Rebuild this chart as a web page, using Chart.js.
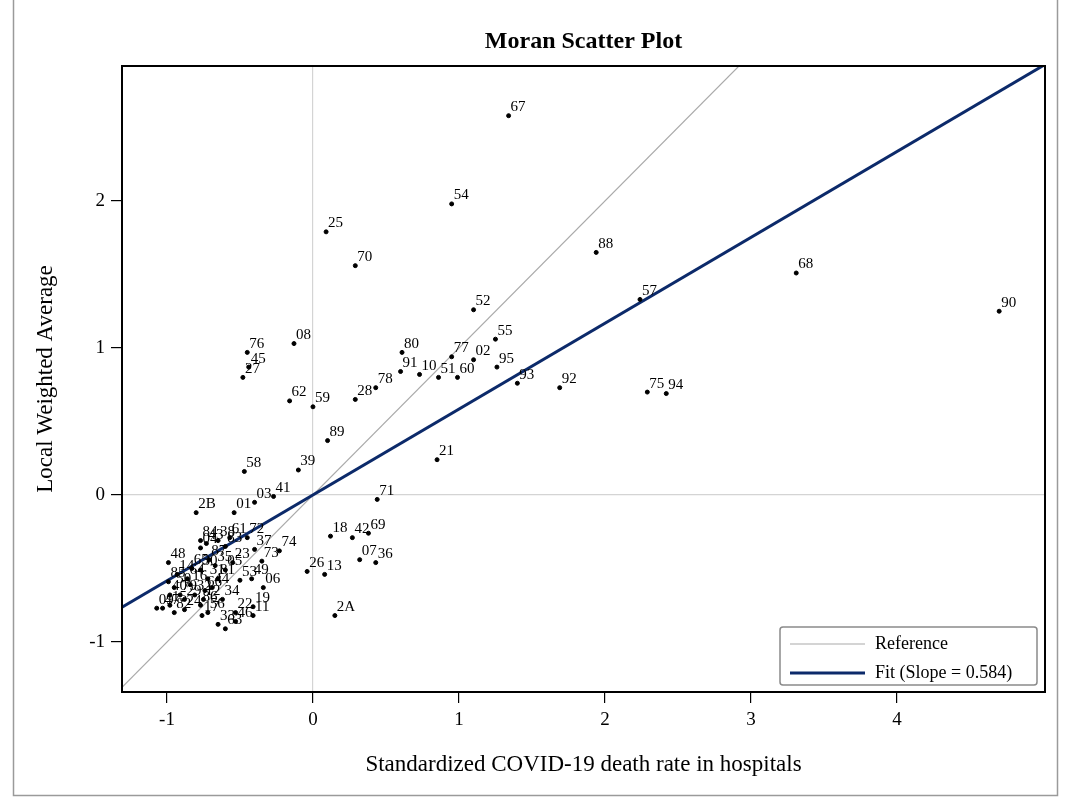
<!DOCTYPE html>
<html>
<head>
<meta charset="utf-8">
<script src="https://cdn.jsdelivr.net/npm/chart.js@4.4.1/dist/chart.umd.min.js"></script>
<style>
  html, body { margin: 0; padding: 0; background: #fff; }
  #wrap { position: relative; width: 1069px; height: 797px; }
</style>
</head>
<body>
<div id="wrap"><canvas id="moran" width="1069" height="797"></canvas></div>
<script>
// department codes, standardized death rate (x) and local weighted average (y)
const codes = ['67','54','25','70','88','68','90','57','52','55','95','93','92','75','94',
  '80','91','10','77','02','51','60','78','28','76','08','45','27','62','59','89','58','39',
  '21','41','71','18','42','69','07','36','26','13','2A','2B','03','01','84','38','61','43',
  '72','74','04','48','37','83','23','73','49','53','06','19','11','46','22','34','44','05',
  '12','56','17','24','33','63','82','09','40','14','15','16','29','30','31','32','35','47',
  '50','64','65','66','79','81','85','86','87'];
const rateVals = [1.34,0.95,0.09,0.29,1.94,3.31,4.70,2.24,1.10,1.25,1.26,1.40,1.69,2.29,2.42,
  0.61,0.60,0.73,0.95,1.10,0.86,0.99,0.43,0.29,-0.45,-0.13,-0.44,-0.48,-0.16,0.00,0.10,-0.47,-0.10,
  0.85,-0.27,0.44,0.12,0.27,0.38,0.32,0.43,-0.04,0.08,0.15,-0.80,-0.40,-0.54,-0.77,-0.65,-0.57,-0.73,
  -0.45,-0.23,-0.77,-0.99,-0.40,-0.60,-0.55,-0.35,-0.42,-0.50,-0.34,-0.41,-0.41,-0.53,-0.53,-0.62,-0.69,-0.60,
  -0.75,-0.72,-0.76,-0.88,-0.65,-0.60,-0.95,-1.07,-0.98,-0.93,-0.98,-0.84,-0.88,-0.77,-0.72,-0.81,-0.67,-1.03,
  -0.95,-0.86,-0.83,-0.74,-0.91,-0.65,-0.99,-0.77,-0.71];
const lagVals = [2.58,1.98,1.79,1.56,1.65,1.51,1.25,1.33,1.26,1.06,0.87,0.76,0.73,0.70,0.69,
  0.97,0.84,0.82,0.94,0.92,0.80,0.80,0.73,0.65,0.97,1.03,0.87,0.80,0.64,0.60,0.37,0.16,0.17,
  0.24,-0.01,-0.03,-0.28,-0.29,-0.26,-0.44,-0.46,-0.52,-0.54,-0.82,-0.12,-0.05,-0.12,-0.31,-0.31,-0.29,-0.33,
  -0.29,-0.38,-0.36,-0.46,-0.37,-0.35,-0.46,-0.45,-0.57,-0.58,-0.63,-0.76,-0.82,-0.86,-0.80,-0.71,-0.63,-0.51,
  -0.71,-0.80,-0.82,-0.78,-0.88,-0.91,-0.80,-0.77,-0.68,-0.54,-0.75,-0.61,-0.71,-0.51,-0.57,-0.68,-0.48,-0.77,
  -0.63,-0.57,-0.50,-0.65,-0.68,-0.57,-0.59,-0.75,-0.44];

const xTicks = [-1, 0, 1, 2, 3, 4];
const yTicks = [-1, 0, 1, 2];
const xRange = [-1.308, 5.014];
const yRange = [-1.34, 2.918];
const fitSlope = 0.584;

const serif = '"Liberation Serif", "DejaVu Serif", serif';

const points = codes.map((c, i) => ({ x: rateVals[i], y: lagVals[i] }));

// labels, box, title, legend and frame
const decor = {
  id: 'decor',
  beforeDraw(chart) {
    const c = chart.ctx;
    c.save();
    c.fillStyle = '#fff';
    c.fillRect(0, 0, chart.width, chart.height);
    c.strokeStyle = '#9a9a9a';
    c.lineWidth = 1.5;
    c.beginPath();
    c.moveTo(13.5, 0); c.lineTo(13.5, 795.5); c.lineTo(1057.5, 795.5); c.lineTo(1057.5, 0);
    c.stroke();
    c.restore();
  },
  afterDatasetsDraw(chart) {
    const c = chart.ctx;
    const area = chart.chartArea;
    c.save();

    // point labels
    const meta = chart.getDatasetMeta(0);
    c.fillStyle = '#000';
    c.font = '15px ' + serif;
    c.textAlign = 'left';
    c.textBaseline = 'bottom';
    meta.data.forEach((el, i) => {
      c.fillText(codes[i], el.x + 2, el.y - 1);
    });

    // frame around plot area
    c.strokeStyle = '#000';
    c.lineWidth = 2;
    c.strokeRect(area.left, area.top, area.right - area.left, area.bottom - area.top);

    // title
    c.font = 'bold 24px ' + serif;
    c.textAlign = 'center';
    c.textBaseline = 'middle';
    c.fillText('Moran Scatter Plot', (area.left + area.right) / 2, 42);

    // legend
    const lw = 257, lh = 58;
    const lx = area.right - 8 - lw, ly = area.bottom - 7 - lh;
    c.strokeStyle = '#8a8a8a';
    c.lineWidth = 1.5;
    c.beginPath();
    c.roundRect(lx, ly, lw, lh, 3);
    c.stroke();
    c.font = '18px ' + serif;
    c.textAlign = 'left';
    chart.data.datasets.slice(1).forEach((ds, k) => {
      const yy = ly + 17 + k * 29;
      c.strokeStyle = ds.borderColor;
      c.lineWidth = ds.borderWidth;
      c.beginPath();
      c.moveTo(lx + 10, yy);
      c.lineTo(lx + 85, yy);
      c.stroke();
      c.fillStyle = '#000';
      c.fillText(ds.label, lx + 95, yy);
    });
    c.restore();
  }
};

function zeroGrid(ctx) {
  return ctx.tick && ctx.tick.value === 0 ? '#d4d4d4' : 'rgba(0,0,0,0)';
}

new Chart(document.getElementById('moran'), {
  type: 'scatter',
  data: {
    datasets: [
      {
        label: 'Departments',
        data: points,
        backgroundColor: '#000',
        borderColor: '#000',
        pointRadius: 2,
        pointHoverRadius: 2,
        order: 0
      },
      {
        type: 'line',
        label: 'Reference',
        data: xRange.map(v => ({ x: v, y: v })),
        borderColor: '#a9a9a9',
        borderWidth: 1.2,
        pointRadius: 0,
        showLine: true,
        order: 2
      },
      {
        type: 'line',
        label: 'Fit (Slope = 0.584)',
        data: xRange.map(v => ({ x: v, y: v * fitSlope })),
        borderColor: '#0c2a6a',
        borderWidth: 3,
        pointRadius: 0,
        showLine: true,
        order: 1
      }
    ]
  },
  options: {
    responsive: false,
    animation: false,
    devicePixelRatio: 1,
    layout: { padding: { top: 66, right: 24, left: 0, bottom: 0 } },
    plugins: {
      legend: { display: false },
      tooltip: { enabled: false }
    },
    scales: {
      x: {
        type: 'linear',
        min: xRange[0],
        max: xRange[1],
        afterBuildTicks: axis => { axis.ticks = xTicks.map(v => ({ value: v })); },
        afterFit: axis => { axis.height = 105; },
        grid: { color: zeroGrid, tickColor: '#000', tickLength: 11, lineWidth: 1.2 },
        border: { color: '#000', width: 2 },
        ticks: { color: '#000', font: { family: serif, size: 19 }, padding: 6 },
        title: {
          display: true,
          text: 'Standardized COVID-19 death rate in hospitals',
          color: '#000',
          font: { family: serif, size: 23 },
          padding: { bottom: 18 }
        }
      },
      y: {
        type: 'linear',
        min: yRange[0],
        max: yRange[1],
        afterBuildTicks: axis => { axis.ticks = yTicks.map(v => ({ value: v })); },
        afterFit: axis => { axis.width = 122; },
        grid: { color: zeroGrid, tickColor: '#000', tickLength: 11, lineWidth: 1.2 },
        border: { color: '#000', width: 2 },
        ticks: { color: '#000', font: { family: serif, size: 19 }, padding: 6 },
        title: {
          display: true,
          text: 'Local Weighted Average',
          color: '#000',
          font: { family: serif, size: 23 },
          padding: { top: 32 }
        }
      }
    }
  },
  plugins: [decor]
});
</script>
</body>
</html>
